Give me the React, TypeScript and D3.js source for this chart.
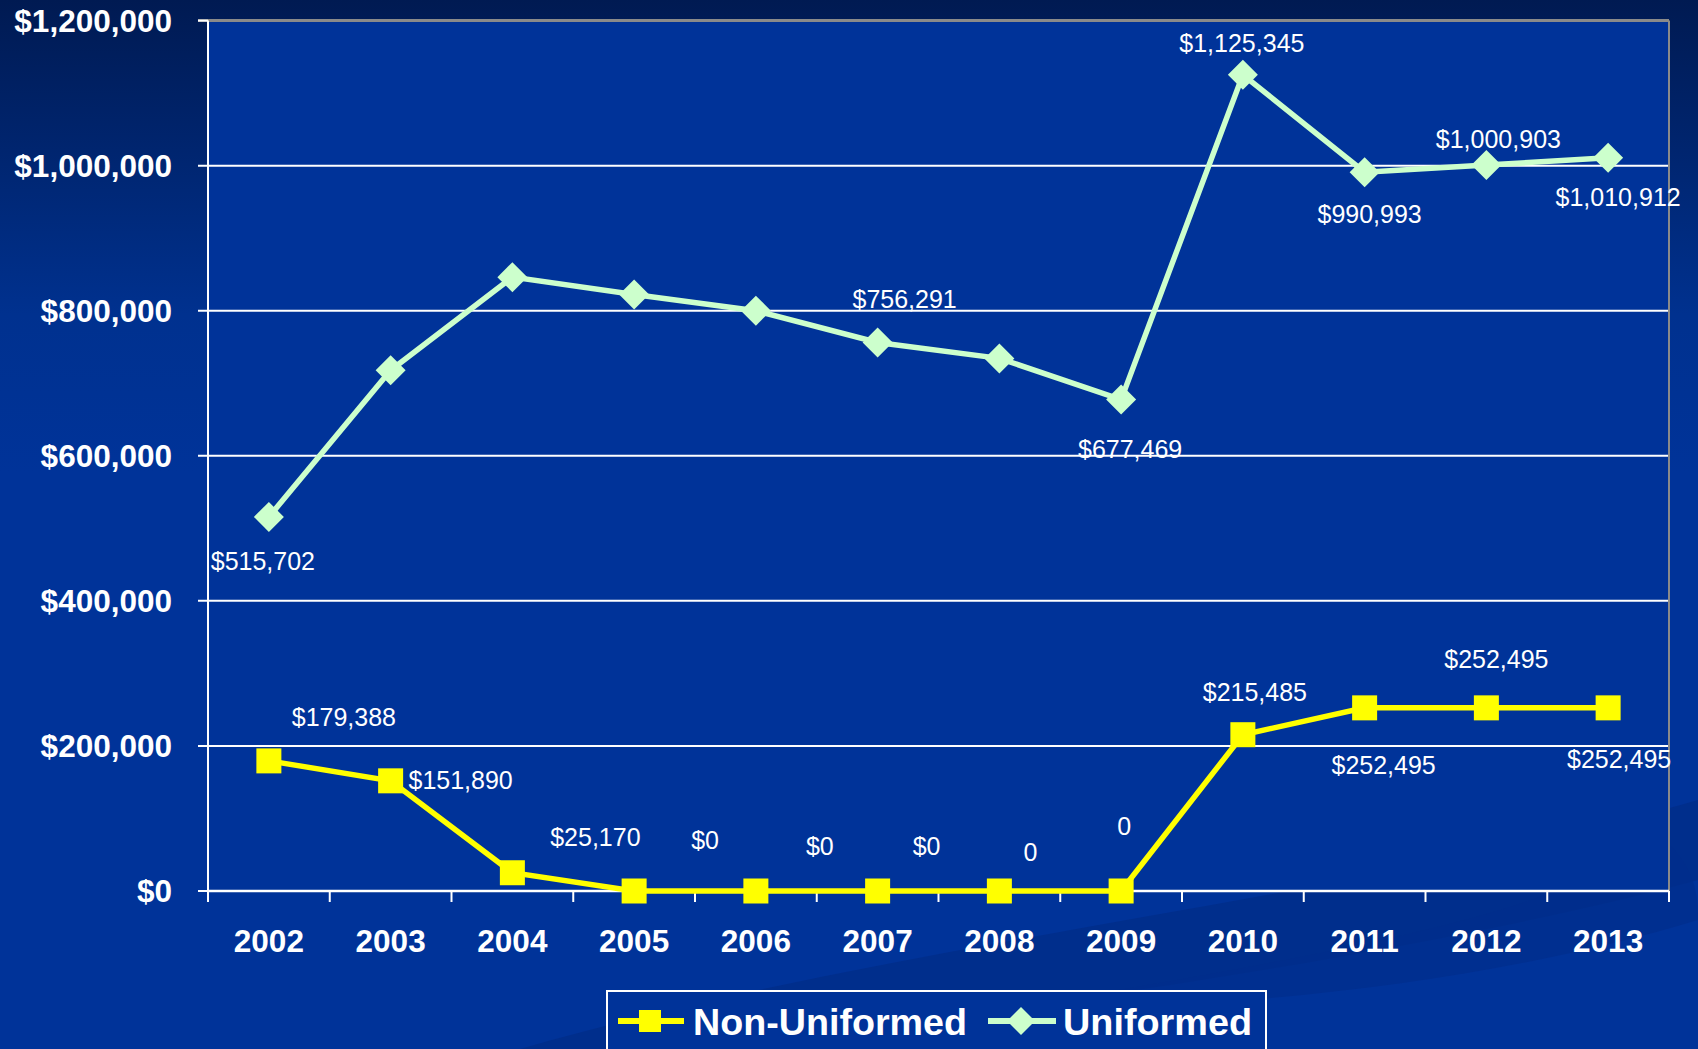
import React from "react";
import * as d3 from "d3";

const years = ["2002","2003","2004","2005","2006","2007","2008","2009","2010","2011","2012","2013"];
const nonUniformed = [179388,151890,25170,0,0,0,0,0,215485,252495,252495,252495];
const uniformed = [515702,717900,846300,822400,800000,756291,734300,677469,1125345,990993,1000903,1010912];
const nonUniformedLabels = ["$179,388","$151,890","$25,170","$0","$0","$0","0","0","$215,485","$252,495","$252,495","$252,495"];
const uniformedLabels = ["$515,702","","","","","$756,291","","$677,469","$1,125,345","$990,993","$1,000,903","$1,010,912"];
const yTicks = [0,200000,400000,600000,800000,1000000,1200000];
const seriesNames = ["Non-Uniformed","Uniformed"];

// label offsets (px) relative to the marker, as placed in the original slide
const nonUniLabelOffsets: [number, number][] = [[75,-44],[70,-1],[83,-36],[71,-51],[64,-45],[49,-45],[31,-39],[3,-65],[12,-43],[19,57],[10,-49],[11,51]];
const uniLabelOffsets: [number, number][] = [[-6,44],[0,0],[0,0],[0,0],[0,0],[27,-43],[0,0],[9,49],[-1,-32],[5,42],[12,-26],[10,39]];

const W = 1698, H = 1049;
const L = 208, R = 1669, T = 20.6, B = 891;

export default function App() {
  const x = d3.scaleBand<string>().domain(years).range([L, R]);
  const y = d3.scaleLinear().domain([0, 1200000]).range([B, T]);
  const cx = (i: number) => (x(years[i]) as number) + x.bandwidth() / 2;
  const line = d3.line<number>().x((_, i) => cx(i)).y((d) => y(d));
  const fmt = (v: number) => (v === 0 ? "$0" : "$" + d3.format(",")(v));
  const font = "'Liberation Sans', Arial, sans-serif";
  const diamond = (px: number, py: number, r: number) =>
    `M${px},${py - r}L${px + r},${py}L${px},${py + r}L${px - r},${py}Z`;

  return (
    <svg width={W} height={H} style={{ position: "fixed", left: 0, top: 0 }} fontFamily={font}>
      <defs>
        <linearGradient id="bg" x1="0" y1="0" x2="0" y2="1">
          <stop offset="0" stopColor="#001a52" />
          <stop offset="0.3" stopColor="#00318f" />
          <stop offset="0.45" stopColor="#003399" />
          <stop offset="1" stopColor="#003399" />
        </linearGradient>
      </defs>
      <rect x={0} y={0} width={W} height={H} fill="url(#bg)" />
      {/* decorative swooshes */}
      <path d={`M520,1049 C900,940 1350,900 1698,800 L1698,880 C1400,960 1000,1010 720,1049 Z`} fill="#002d88" opacity={0.8} />
      <path d={`M1000,1010 C1300,960 1660,900 1640,820 C1700,860 1698,900 1698,920 C1500,980 1250,1010 1000,1010 Z`} fill="#002e8c" opacity={0.7} />
      {/* plot area */}
      <rect x={L} y={T} width={R - L} height={B - T} fill="#003399" />
      {/* gridlines */}
      {yTicks.map((t) => (
        <line key={t} x1={L - 10} x2={R} y1={y(t)} y2={y(t)} stroke={t === 1200000 ? "#8a8a8a" : "#ffffff"} strokeWidth={t === 1200000 ? 3 : 2} />
      ))}
      <line x1={L - 10} x2={L} y1={y(1200000)} y2={y(1200000)} stroke="#ffffff" strokeWidth={2} />
      {/* right border */}
      <line x1={R} x2={R} y1={T} y2={B} stroke="#8a8a8a" strokeWidth={2} />
      {/* left axis */}
      <line x1={L} x2={L} y1={T} y2={B + 11} stroke="#ffffff" strokeWidth={2} />
      {/* bottom axis */}
      <line x1={L} x2={R} y1={B} y2={B} stroke="#ffffff" strokeWidth={2.5} />
      {years.map((yr) => (
        <line key={yr} x1={(x(yr) as number) + x.bandwidth()} x2={(x(yr) as number) + x.bandwidth()} y1={B} y2={B + 11} stroke="#ffffff" strokeWidth={2} />
      ))}
      {/* y labels */}
      {yTicks.map((t) => (
        <text key={t} x={172} y={y(t)} dy="0.36em" textAnchor="end" fill="#ffffff" fontWeight="bold" fontSize={31.5}>
          {fmt(t)}
        </text>
      ))}
      {/* x labels */}
      {years.map((yr, i) => (
        <text key={yr} x={cx(i)} y={952} textAnchor="middle" fill="#ffffff" fontWeight="bold" fontSize={31.5}>
          {yr}
        </text>
      ))}
      {/* lines */}
      <path d={line(nonUniformed) as string} fill="none" stroke="#ffff00" strokeWidth={5.5} />
      <path d={line(uniformed) as string} fill="none" stroke="#ccffcc" strokeWidth={5.5} />
      {nonUniformed.map((v, i) => (
        <rect key={i} x={cx(i) - 12.5} y={y(v) - 12.5} width={25} height={25} fill="#ffff00" />
      ))}
      {uniformed.map((v, i) => (
        <path key={i} d={diamond(cx(i), y(v), 15)} fill="#ccffcc" />
      ))}
      {/* data labels */}
      {nonUniformed.map((v, i) => (
        <text key={i} x={cx(i) + nonUniLabelOffsets[i][0]} y={y(v) + nonUniLabelOffsets[i][1]} dy="0.36em" textAnchor="middle" fill="#ffffff" fontSize={25}>
          {nonUniformedLabels[i]}
        </text>
      ))}
      {uniformed.map((v, i) =>
        uniformedLabels[i] ? (
          <text key={i} x={cx(i) + uniLabelOffsets[i][0]} y={y(v) + uniLabelOffsets[i][1]} dy="0.36em" textAnchor="middle" fill="#ffffff" fontSize={25}>
            {uniformedLabels[i]}
          </text>
        ) : null
      )}
      {/* legend */}
      <rect x={607} y={991} width={659} height={70} fill="#003399" stroke="#ffffff" strokeWidth={2} />
      <line x1={618} x2={684} y1={1021} y2={1021} stroke="#ffff00" strokeWidth={6} />
      <rect x={639} y={1010} width={22} height={22} fill="#ffff00" />
      <text x={693} y={1035} fill="#ffffff" fontWeight="bold" fontSize={37} textLength={274} lengthAdjust="spacingAndGlyphs">
        {seriesNames[0]}
      </text>
      <line x1={988} x2={1056} y1={1021} y2={1021} stroke="#ccffcc" strokeWidth={6} />
      <path d={diamond(1021, 1021, 14)} fill="#ccffcc" />
      <text x={1063} y={1035} fill="#ffffff" fontWeight="bold" fontSize={37} textLength={189} lengthAdjust="spacingAndGlyphs">
        {seriesNames[1]}
      </text>
    </svg>
  );
}
